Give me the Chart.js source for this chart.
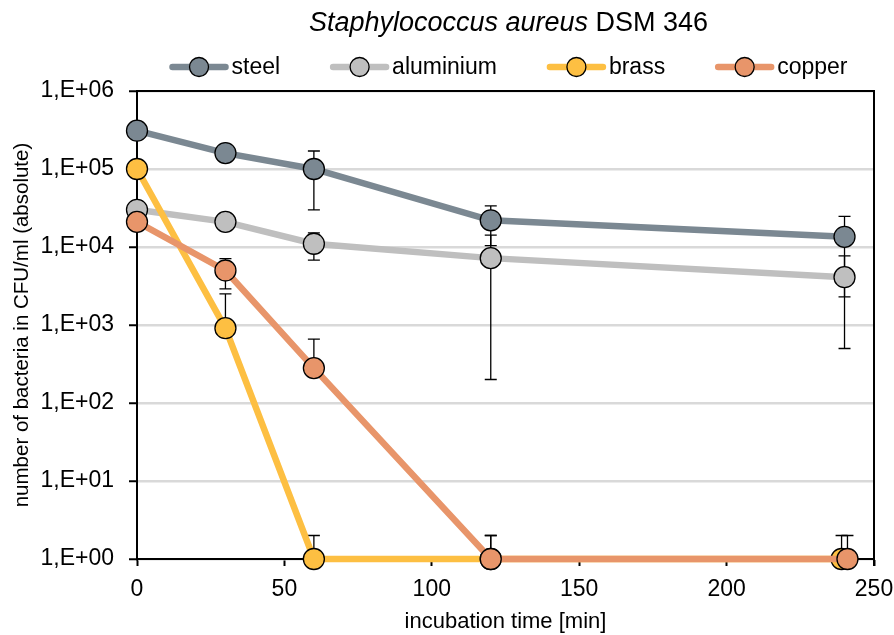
<!DOCTYPE html>
<html>
<head>
<meta charset="utf-8">
<script src="https://cdn.jsdelivr.net/npm/chart.js@4/dist/chart.umd.min.js"></script>
<style>
  html, body { margin: 0; padding: 0; background: #fff; }
  #wrap { width: 894px; height: 635px; }
</style>
</head>
<body>
<div id="wrap"><canvas id="cfuChart" width="894" height="635"></canvas></div>
<script>
// incubation time [min]
const timeMin = [0, 30, 60, 120, 240];
const brassTime = [0, 30, 60, 120, 239];
const copperTime = [0, 30, 60, 120, 241];

// CFU/ml (absolute), means and standard deviations
const steel = [3.1e5, 1.6e5, 1.0e5, 2.2e4, 1.35e4];
const steelSd = [0, 0, 7.0e4, 1.16e4, 1.12e4];
const aluminium = [3.0e4, 2.1e4, 1.1e4, 7.2e3, 4.1e3];
const aluminiumSd = [0, 0, 4.2e3, 7.0e3, 3.6e3];
const brass = [1.0e5, 9.1e2, 1, 1, 1];
const brassSd = [0, 1.6e3, 1, 1, 1];
const copper = [2.1e4, 5.0e3, 2.8e2, 1, 1];
const copperSd = [0, 2.1e3, 3.8e2, 1, 1];

const yTickValues = [1, 10, 100, 1000, 10000, 100000, 1000000];
const yTickLabels = ['1,E+00', '1,E+01', '1,E+02', '1,E+03', '1,E+04', '1,E+05', '1,E+06'];

const FONT = "'Liberation Sans Narrow', 'Arial Narrow', 'Liberation Sans', sans-serif";
Chart.defaults.color = '#000000';
Chart.defaults.font.family = FONT;

function pts(xs, ys) {
  return xs.map((x, i) => ({ x: x, y: ys[i] }));
}

function series(label, xs, ys, sd, color, order) {
  return {
    label: label,
    data: pts(xs, ys),
    sd: sd,
    borderColor: color,
    backgroundColor: color,
    borderWidth: 6.5,
    pointRadius: 10.5,
    pointHoverRadius: 10.5,
    pointBorderColor: '#000000',
    pointBorderWidth: 1.3,
    pointBackgroundColor: color,
    tension: 0,
    clip: false,
    order: order,
  };
}

// vertical error bars (value +/- sd), drawn under the lines
const errorBars = {
  id: 'errorBars',
  beforeDatasetsDraw(chart) {
    const ctx = chart.ctx;
    const y = chart.scales.y;
    ctx.save();
    ctx.strokeStyle = '#000000';
    ctx.lineWidth = 1.3;
    chart.data.datasets.forEach((ds, di) => {
      const meta = chart.getDatasetMeta(di);
      ds.data.forEach((p, i) => {
        const sd = ds.sd[i];
        if (!sd) return;
        const px = meta.data[i].x;
        const yTop = y.getPixelForValue(p.y + sd);
        const lo = p.y - sd;
        const yBot = lo > 0 ? y.getPixelForValue(lo) : y.getPixelForValue(p.y);
        ctx.beginPath();
        ctx.moveTo(px, yTop);
        ctx.lineTo(px, yBot);
        ctx.moveTo(px - 6, yTop);
        ctx.lineTo(px + 6, yTop);
        if (lo > 0) {
          ctx.moveTo(px - 6, yBot);
          ctx.lineTo(px + 6, yBot);
        }
        ctx.stroke();
      });
    });
    // top and right frame
    const a = chart.chartArea;
    ctx.lineWidth = 2;
    ctx.beginPath();
    ctx.moveTo(a.left, a.top);
    ctx.lineTo(a.right, a.top);
    ctx.lineTo(a.right, a.bottom + 7);
    ctx.stroke();
    ctx.restore();
  }
};

// title with italic species name and legend with line + marker
const header = {
  id: 'header',
  afterDraw(chart) {
    const ctx = chart.ctx;
    const a = chart.chartArea;
    const cx = (a.left + a.right) / 2 + 3;
    ctx.save();
    ctx.fillStyle = '#000000';
    ctx.textBaseline = 'alphabetic';
    const italicFont = 'italic 27px ' + FONT;
    const plainFont = '27px ' + FONT;
    const t1 = 'Staphylococcus aureus';
    const t2 = ' DSM 346';
    ctx.font = italicFont;
    const w1 = ctx.measureText(t1).width;
    ctx.font = plainFont;
    const w2 = ctx.measureText(t2).width;
    let tx = cx - (w1 + w2) / 2;
    ctx.font = italicFont;
    ctx.fillText(t1, tx, 31);
    ctx.font = plainFont;
    ctx.fillText(t2, tx + w1, 31);

    // legend
    const lineLen = 59, gapText = 3, gapItem = 50, ly = 67;
    ctx.font = '23px ' + FONT;
    const items = chart.data.datasets.map(ds => ({
      text: ds.label,
      color: ds.borderColor,
      w: ctx.measureText(ds.label).width
    }));
    const total = items.reduce((s, it) => s + lineLen + gapText + it.w, 0) + gapItem * (items.length - 1);
    let x = cx - total / 2;
    ctx.textBaseline = 'middle';
    items.forEach(it => {
      ctx.strokeStyle = it.color;
      ctx.lineWidth = 6.5;
      ctx.lineCap = 'round';
      ctx.beginPath();
      ctx.moveTo(x + 3, ly);
      ctx.lineTo(x + lineLen - 3, ly);
      ctx.stroke();
      ctx.beginPath();
      ctx.arc(x + lineLen / 2, ly, 9.5, 0, Math.PI * 2);
      ctx.fillStyle = it.color;
      ctx.fill();
      ctx.lineWidth = 1.3;
      ctx.strokeStyle = '#000000';
      ctx.stroke();
      ctx.fillStyle = '#000000';
      ctx.fillText(it.text, x + lineLen + gapText, ly + 1);
      x += lineLen + gapText + it.w + gapItem;
    });
    ctx.restore();
  }
};

const ctx = document.getElementById('cfuChart').getContext('2d');

const chart = new Chart(ctx, {
  type: 'line',
  data: {
    datasets: [
      series('steel', timeMin, steel, steelSd, '#7b8892', 4),
      series('aluminium', timeMin, aluminium, aluminiumSd, '#bfbfbf', 3),
      series('brass', brassTime, brass, brassSd, '#fdbf42', 2),
      series('copper', copperTime, copper, copperSd, '#e8956a', 1),
    ]
  },
  options: {
    responsive: false,
    animation: false,
    layout: {
      padding: { top: 91, right: 20, left: 0, bottom: 0 }
    },
    plugins: {
      legend: { display: false },
      title: { display: false },
      tooltip: { enabled: false },
    },
    scales: {
      x: {
        type: 'linear',
        min: 0,
        max: 250,
        ticks: {
          stepSize: 50,
          font: { size: 23 },
          padding: 10,
          maxRotation: 0,
        },
        grid: {
          drawOnChartArea: false,
          tickLength: 7,
          tickColor: '#000000',
          tickWidth: 2,
        },
        border: { color: '#000000', width: 2 },
        title: {
          display: true,
          text: 'incubation time [min]',
          font: { size: 22 },
          padding: { top: 0, bottom: 0 },
        },
        afterFit(scale) {
          scale.height = 76;
          scale.paddingLeft = 0;
          scale.paddingRight = 0;
        },
      },
      y: {
        type: 'logarithmic',
        min: 1,
        max: 1000000,
        afterBuildTicks(scale) {
          scale.ticks = yTickValues.map(v => ({ value: v }));
        },
        ticks: {
          font: { size: 23 },
          padding: 15,
          callback: (v) => yTickLabels[yTickValues.indexOf(v)],
        },
        grid: {
          color: '#d9d9d9',
          lineWidth: 2.5,
          tickLength: 8,
          tickColor: '#000000',
          tickWidth: 2,
        },
        border: { color: '#000000', width: 2 },
        title: {
          display: true,
          text: 'number of bacteria in CFU/ml (absolute)',
          font: { size: 20.5 },
          padding: { top: 10, bottom: 0 },
        },
        afterFit(scale) {
          scale.width = 137;
          scale.paddingTop = 0;
          scale.paddingBottom = 0;
        },
      },
    }
  },
  plugins: [errorBars, header]
});
</script>
</body>
</html>
